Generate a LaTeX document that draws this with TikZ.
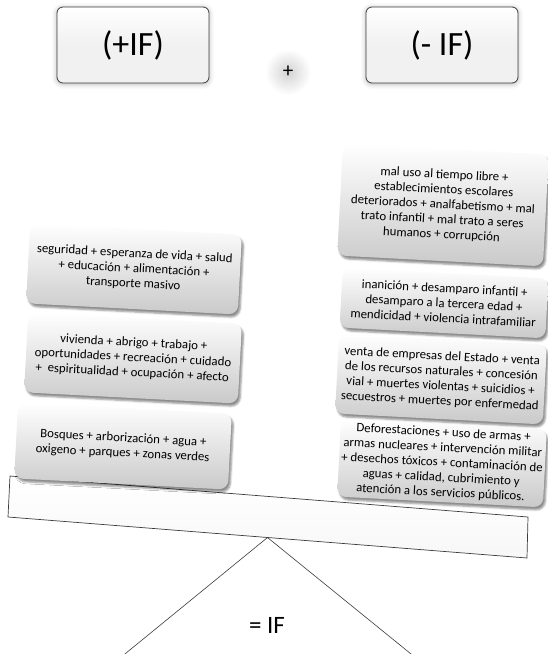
\documentclass[tikz,border=0pt]{standalone}
\usepackage{fontspec}
\setmainfont{Carlito}
\usetikzlibrary{shadows}
\usetikzlibrary{shadows.blur}
\usetikzlibrary{calc}
\definecolor{boxline}{HTML}{3c3c3c}
\definecolor{boxbg}{HTML}{f1f1f1}

\begin{document}
\begin{tikzpicture}[x=1pt,y=-1pt,
title/.style = {draw=boxline, line width=0.8pt, rounded corners=6pt,
  top color=white, bottom color=boxbg, middle color=boxbg,
  minimum width=152pt, minimum height=76pt,
  font=\fontsize{34}{38}\selectfont,
  blur shadow={shadow xshift=0pt, shadow yshift=-1pt, shadow blur radius=5pt, shadow opacity=30}},
factor/.style = {rounded corners=9pt, top color=white, bottom color=gray!42,
  align=center, rotate=\tilt, inner sep=1pt,
  font=\fontsize{12.8}{15}\selectfont,
  blur shadow={shadow blur extra rounding, shadow xshift=2pt, shadow yshift=-3pt, shadow opacity=45}},
beam/.style = {draw=boxline, line width=0.7pt, top color=white, bottom color=gray!6},
fulcrum/.style = {draw=boxline, line width=0.6pt, fill=white}
]
\pgfmathsetmacro{\tilt}{-3}

\useasboundingbox (0,0) rectangle (548,654);
\clip (0,0) rectangle (548,654);

\node [title] (pos) at (133,45) {(+IF)};
\node [title] (neg) at (442,45) {(- IF)};
\node [circle, inner color=gray!35, outer color=white, minimum size=46pt,
  font=\fontsize{21}{22}\selectfont] (plus) at (288,72) {+};

% balance
\coordinate (b1) at (10,476);
\coordinate (b2) at (528,517);
\coordinate (b3) at (527,558);
\coordinate (b4) at (8,517);
\coordinate (apex) at ($ (b4)!0.5!(b3) $);
\coordinate (baseL) at (120,658);
\coordinate (baseR) at (416,658);

\draw [fulcrum] (apex) -- (baseR) -- (baseL) -- cycle;
\node [font=\fontsize{25}{28}\selectfont] (result) at (267,625) {= IF};

\draw [beam] (b1) -- (b2) -- (b3) -- (b4) -- cycle;

\node [factor, minimum width=212pt, minimum height=80pt] (l1) at (134,269)
  {seguridad + esperanza de vida + salud\\ + educación + alimentación +\\ transporte masivo};
\node [factor, minimum width=214pt, minimum height=80pt] (l2) at (133,358)
  {vivienda + abrigo + trabajo +\\ oportunidades + recreación + cuidado\\ +\ \ espiritualidad + ocupación + afecto};
\node [factor, minimum width=214pt, minimum height=76pt] (l3) at (123,446)
  {Bosques + arborización + agua +\\ oxigeno + parques + zonas verdes};

\node [factor, minimum width=206pt, minimum height=112pt] (r1) at (443,205)
  {mal uso al tiempo libre +\\ establecimientos escolares\\ deteriorados + analfabetismo + mal\\ trato infantil + mal trato a seres\\ humanos + corrupción};
\node [factor, minimum width=206pt, minimum height=60pt] (r2) at (444,303)
  {inanición + desamparo infantil +\\ desamparo a la tercera edad +\\ mendicidad + violencia intrafamiliar};
\node [factor, minimum width=208pt, minimum height=80pt] (r3) at (441,379)
  {venta de empresas del Estado + venta\\ de los recursos naturales + concesión\\ vial + muertes violentas + suicidios +\\ secuestros + muertes por enfermedad};
\node [factor, minimum width=206pt, minimum height=78pt] (r4) at (442,463)
  {Deforestaciones + uso de armas +\\ armas nucleares + intervención militar\\ + desechos tóxicos + contaminación de\\ aguas + calidad, cubrimiento y\\ atención a los servicios públicos.};

\end{tikzpicture}
\end{document}
